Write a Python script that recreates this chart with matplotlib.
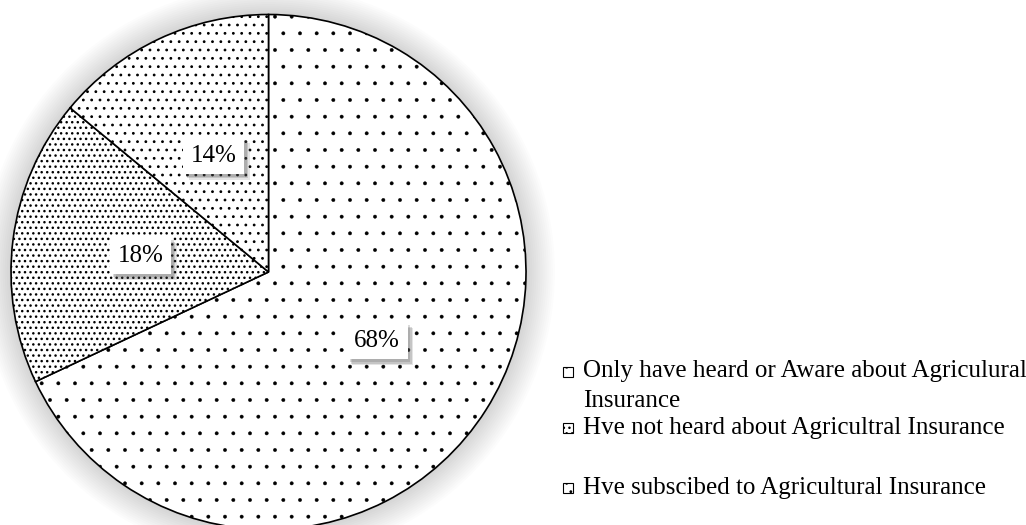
import matplotlib.pyplot as plt
from matplotlib.patches import Circle, Rectangle
import matplotlib.patheffects as pe

plt.rcParams['font.family'] = ['Liberation Serif', 'DejaVu Serif']

labels = ['Only have heard or Aware about Agriculural\nInsurance',
          'Hve not heard about Agricultral Insurance',
          'Hve subscibed to Agricultural Insurance']
shares = [68, 18, 14]
hatches = ['.', '...', '..']
hatch_lw = [0.3, 1.0, 0.8]

W, H = 1026, 525
fig = plt.figure(figsize=(W / 100, H / 100), dpi=100)
ax = fig.add_axes([11 / W, -4.5 / H, 515 / W, 515 / H])

# soft glow behind the pie
for i in range(14):
    ax.add_patch(Circle((0, 0), 1 + 0.008 * (i + 1), facecolor='0.5',
                        edgecolor='none', alpha=0.025, zorder=0, clip_on=False))

wedges, texts, autotexts = ax.pie(
    shares, startangle=90, counterclock=False, autopct='%1.0f%%',
    pctdistance=0.5, radius=1,
    wedgeprops=dict(edgecolor='black', linewidth=1.2, facecolor='white'),
    textprops=dict(fontsize=18))
for w, h, lw in zip(wedges, hatches, hatch_lw):
    w.set_hatch(h)
    w.set_hatch_linewidth(lw)
    w.set_zorder(2)

for t in autotexts:
    t.set_zorder(5)
    t.set_bbox(dict(boxstyle='square,pad=0.3', fc='white', ec='none'))
    t.get_bbox_patch().set_path_effects([
        pe.SimplePatchShadow(offset=(4, -4), shadow_rgbFace='0.3', alpha=0.15),
        pe.SimplePatchShadow(offset=(3, -3), shadow_rgbFace='0.3', alpha=0.2),
        pe.SimplePatchShadow(offset=(2, -2), shadow_rgbFace='0.3', alpha=0.2),
        pe.Normal()])

ax.set_xlim(-1, 1)
ax.set_ylim(-1, 1)
ax.axis('off')

# legend, drawn by hand to keep Excel's uneven spacing
marker_y = [372, 428, 488]
text_y = [386, 428, 488]
for lab, h, lw, my, ty in zip(labels, hatches, hatch_lw, marker_y, text_y):
    r = Rectangle((563 / W, 1 - (my + 5) / H), 10 / W, 10 / H,
                  transform=fig.transFigure, facecolor='white',
                  edgecolor='black', lw=0.8, hatch=h)
    r.set_hatch_linewidth(lw)
    fig.add_artist(r)
    fig.text(583 / W, 1 - ty / H, lab, fontsize=18, ha='left', va='center',
             linespacing=1.5)

fig.savefig('out.png', dpi=100)
